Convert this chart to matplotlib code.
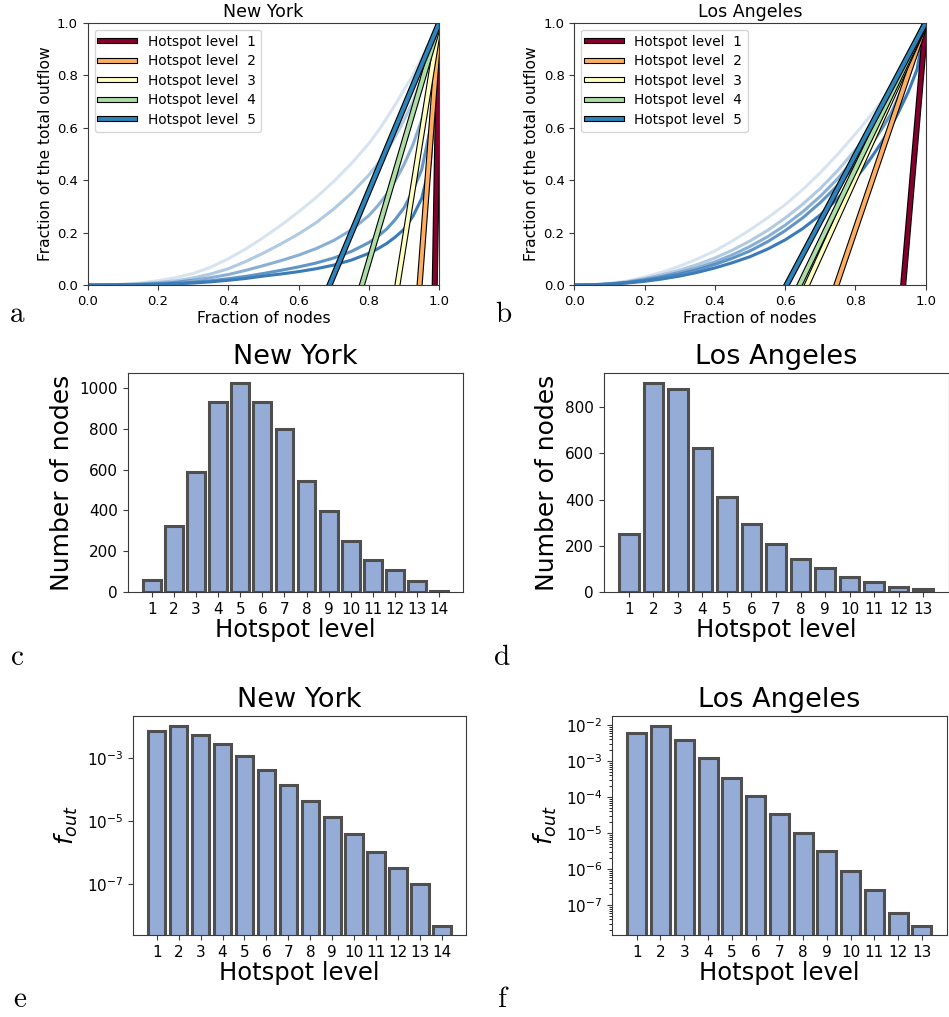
import numpy as np
import matplotlib
matplotlib.use("Agg")
import matplotlib.pyplot as plt
import matplotlib.patheffects as pe
from matplotlib.ticker import LogLocator, NullLocator, NullFormatter

plt.rcParams["font.family"] = "DejaVu Sans"

# ---- Lorenz-type curves: cumulative outflow share vs. fraction of nodes ----
frac_nodes = [0.0, 0.05, 0.1, 0.15, 0.2, 0.25, 0.3, 0.35, 0.4, 0.45, 0.5,
              0.55, 0.6, 0.65, 0.7, 0.75, 0.8, 0.825, 0.85, 0.875, 0.9, 0.925,
              0.95, 0.975, 1.0]

# New York, one curve per iteration (level 1 = full network)
ny_outflow_l1 = [0, 0.0001, 0.0005, 0.0012, 0.0025, 0.0045, 0.0075, 0.012, 0.018, 0.025, 0.034,
                 0.042, 0.051, 0.062, 0.076, 0.095, 0.121, 0.138, 0.158, 0.183, 0.213, 0.262,
                 0.33, 0.47, 1.0]
ny_outflow_l2 = [0, 0.0001, 0.0006, 0.0016, 0.0035, 0.006, 0.010, 0.016, 0.024, 0.033, 0.044,
                 0.056, 0.069, 0.084, 0.103, 0.128, 0.162, 0.185, 0.213, 0.25, 0.295, 0.36,
                 0.44, 0.60, 1.0]
ny_outflow_l3 = [0, 0.0002, 0.001, 0.0025, 0.005, 0.0105, 0.018, 0.028, 0.040, 0.056, 0.074,
                 0.093, 0.114, 0.139, 0.170, 0.210, 0.265, 0.302, 0.345, 0.398, 0.46, 0.535,
                 0.63, 0.78, 1.0]
ny_outflow_l4 = [0, 0.0004, 0.0018, 0.0045, 0.009, 0.016, 0.027, 0.042, 0.062, 0.090, 0.122,
                 0.157, 0.195, 0.238, 0.290, 0.350, 0.420, 0.462, 0.51, 0.566, 0.63, 0.70,
                 0.785, 0.885, 1.0]
ny_outflow_l5 = [0, 0.0005, 0.0028, 0.008, 0.016, 0.028, 0.044, 0.068, 0.100, 0.138, 0.181,
                 0.228, 0.279, 0.334, 0.395, 0.463, 0.540, 0.585, 0.635, 0.688, 0.745, 0.80,
                 0.865, 0.935, 1.0]

# Los Angeles
la_outflow_l1 = [0, 0.0004, 0.003, 0.0075, 0.014, 0.023, 0.034, 0.048, 0.065, 0.085, 0.108,
                 0.137, 0.172, 0.215, 0.267, 0.33, 0.405, 0.448, 0.495, 0.545, 0.60, 0.665,
                 0.735, 0.82, 1.0]
la_outflow_l2 = [0, 0.0005, 0.0035, 0.009, 0.017, 0.028, 0.042, 0.058, 0.078, 0.102, 0.13,
                 0.165, 0.207, 0.256, 0.314, 0.38, 0.457, 0.50, 0.545, 0.595, 0.65, 0.725,
                 0.805, 0.905, 1.0]
la_outflow_l3 = [0, 0.0006, 0.004, 0.010, 0.020, 0.033, 0.048, 0.066, 0.088, 0.115, 0.147,
                 0.184, 0.228, 0.279, 0.338, 0.406, 0.485, 0.53, 0.58, 0.64, 0.705, 0.78,
                 0.855, 0.93, 1.0]
la_outflow_l4 = [0, 0.0007, 0.0045, 0.012, 0.024, 0.039, 0.057, 0.078, 0.103, 0.133, 0.168,
                 0.208, 0.255, 0.308, 0.368, 0.437, 0.515, 0.558, 0.605, 0.66, 0.72, 0.79,
                 0.865, 0.935, 1.0]
la_outflow_l5 = [0, 0.001, 0.006, 0.015, 0.030, 0.049, 0.072, 0.099, 0.130, 0.168, 0.210,
                 0.256, 0.306, 0.364, 0.428, 0.499, 0.576, 0.616, 0.658, 0.702, 0.748, 0.805,
                 0.87, 0.935, 1.0]

# x-intercepts of the tangent at (1, 1) for hotspot levels 1..5
ny_tangent_x0 = [0.987, 0.944, 0.881, 0.780, 0.688]
la_tangent_x0 = [0.936, 0.746, 0.662, 0.641, 0.604]

hotspot_labels = ["Hotspot level  1", "Hotspot level  2", "Hotspot level  3",
                  "Hotspot level  4", "Hotspot level  5"]

# ---- Hotspot-level histograms ----
ny_levels = list(range(1, 15))
ny_counts = [60, 325, 590, 928, 1022, 930, 797, 542, 395, 253, 158, 110, 55, 5]
la_levels = list(range(1, 14))
la_counts = [250, 903, 879, 621, 412, 294, 210, 142, 103, 67, 43, 25, 15]

# ---- Outflow fraction per level ----
ny_fout = [7.2e-3, 1.0e-2, 5.3e-3, 2.8e-3, 1.1e-3, 4.0e-4, 1.4e-4, 4.3e-5, 1.35e-5,
           3.8e-6, 1.05e-6, 3.4e-7, 1.0e-7, 4.8e-9]
la_fout = [6.2e-3, 9.3e-3, 3.9e-3, 1.2e-3, 3.3e-4, 1.05e-4, 3.3e-5, 1.0e-5, 3.1e-6,
           8.7e-7, 2.6e-7, 6.0e-8, 2.6e-8]

line_colors = ["#86002b", "#fdae61", "#ffffbf", "#abdda4", "#2b83ba"]
curve_blue = "#3a7bb8"
curve_alpha = [1.0, 0.8, 0.6, 0.4, 0.2]
bar_face = "#95acd7"
bar_edge = "#4f4f4f"
spine_col = "#3a3a3a"

W, H = 949, 1017
fig = plt.figure(figsize=(W / 100, H / 100), dpi=100)


def add_ax(left, right, top, bottom):
    return fig.add_axes([left / W, 1 - bottom / H, (right - left) / W, (bottom - top) / H])


def style_spines(ax):
    for s in ax.spines.values():
        s.set_color(spine_col)
    ax.tick_params(colors=spine_col, labelcolor="black")


def lorenz_panel(ax, title, curves, x0s):
    for y, a in zip(curves, curve_alpha):
        ax.plot(frac_nodes, y, color=curve_blue, alpha=a, lw=2.2,
                solid_capstyle="round", solid_joinstyle="round")
    for x0, col, lab in zip(x0s, line_colors, hotspot_labels):
        ax.plot([x0, 1.0], [0.0, 1.0], color=col, lw=2.8, label=lab,
                path_effects=[pe.Stroke(linewidth=4.4, foreground="black"), pe.Normal()])
    ax.set_xlim(0, 1)
    ax.set_ylim(0, 1)
    ax.set_title(title, fontsize=12.5, pad=4)
    ax.set_xlabel("Fraction of nodes", fontsize=11.2, labelpad=2)
    ax.set_ylabel("Fraction of the total outflow", fontsize=11.2, labelpad=3)
    ax.tick_params(labelsize=9.5)
    ax.legend(loc="upper left", fontsize=9.8, handlelength=2.6, handletextpad=0.9,
              borderaxespad=0.5, labelspacing=0.4)
    style_spines(ax)


def count_panel(ax, title, levels, counts):
    ax.bar(levels, counts, width=0.8, color=bar_face, edgecolor=bar_edge, linewidth=2.2)
    ax.set_xticks(levels)
    ax.set_title(title, fontsize=19.5, pad=6)
    ax.set_xlabel("Hotspot level", fontsize=17.5, labelpad=1)
    ax.set_ylabel("Number of nodes", fontsize=18, labelpad=4)
    ax.tick_params(labelsize=11)
    style_spines(ax)


def fout_panel(ax, title, levels, fout, ylim):
    ax.set_yscale("log")
    ax.bar(levels, fout, width=0.8, color=bar_face, edgecolor=bar_edge, linewidth=2.2)
    ax.set_xticks(levels)
    ax.set_ylim(*ylim)
    ax.set_title(title, fontsize=19.5, pad=6)
    ax.set_xlabel("Hotspot level", fontsize=17.5, labelpad=1)
    ax.set_ylabel(r"$f_{out}$", fontsize=18, labelpad=5)
    ax.tick_params(labelsize=11)
    style_spines(ax)


ax_a = add_ax(87.7, 439.3, 22.7, 285)
ax_b = add_ax(574.3, 925.7, 22.7, 285)
ax_c = add_ax(127.7, 463.3, 372.7, 592.3)
ax_d = add_ax(603.5, 948.5, 372.7, 592.3)
ax_e = add_ax(132.7, 466.0, 715.7, 935)
ax_f = add_ax(612.0, 946.7, 715.7, 935)

lorenz_panel(ax_a, "New York",
             [ny_outflow_l1, ny_outflow_l2, ny_outflow_l3, ny_outflow_l4, ny_outflow_l5],
             ny_tangent_x0)
lorenz_panel(ax_b, "Los Angeles",
             [la_outflow_l1, la_outflow_l2, la_outflow_l3, la_outflow_l4, la_outflow_l5],
             la_tangent_x0)

count_panel(ax_c, "New York", ny_levels, ny_counts)
count_panel(ax_d, "Los Angeles", la_levels, la_counts)

fout_panel(ax_e, "New York", ny_levels, ny_fout, (10 ** -8.6, 10 ** -1.674))
ax_e.set_yticks([1e-7, 1e-5, 1e-3])
ax_e.yaxis.set_minor_locator(NullLocator())

fout_panel(ax_f, "Los Angeles", la_levels, la_fout, (10 ** -7.83, 10 ** -1.74))
ax_f.yaxis.set_major_locator(LogLocator(base=10, numticks=20))
ax_f.yaxis.set_minor_locator(LogLocator(base=10, subs=np.arange(2, 10), numticks=20))
ax_f.yaxis.set_minor_formatter(NullFormatter())

# panel letters
for letter, x, y in [("a", 9, 322), ("b", 495, 322), ("c", 10, 665),
                     ("d", 493, 665), ("e", 13, 1007), ("f", 497, 1007)]:
    fig.text(x / W, 1 - y / H, r"$\mathrm{%s}$" % letter, math_fontfamily="cm",
             fontsize=21, va="baseline", ha="left")

fig.savefig("out.png", dpi=100)
